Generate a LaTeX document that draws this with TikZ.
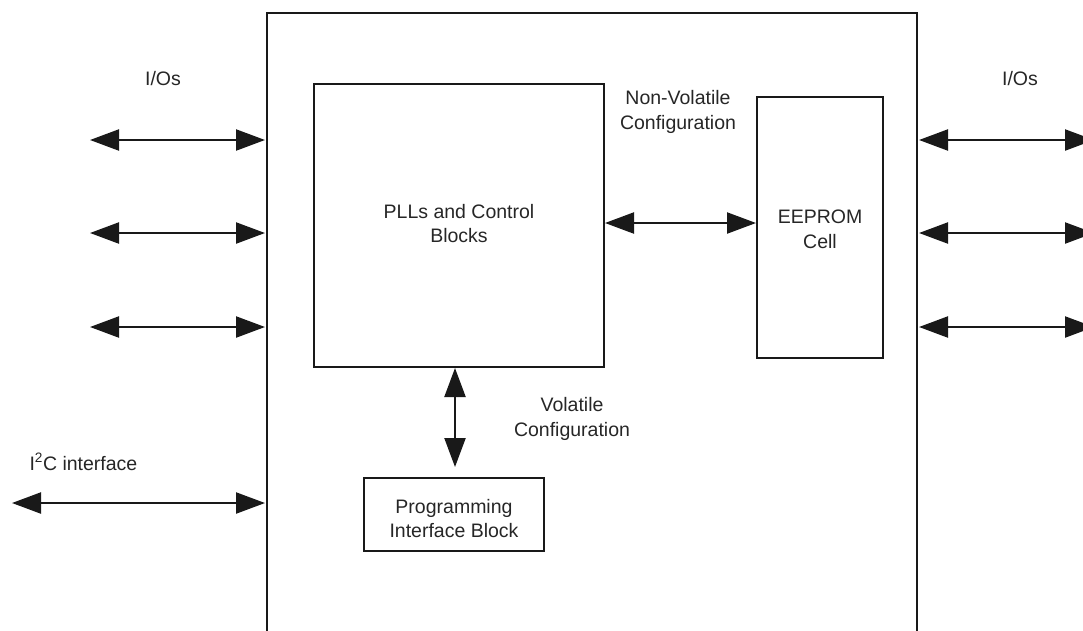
\documentclass[tikz,border=0pt]{standalone}
\usepackage{fontspec}
\setmainfont{Liberation Sans}
\usetikzlibrary{arrows.meta}
\begin{document}
\begin{tikzpicture}[x=1pt,y=-1pt,
  blk/.style={draw=black!90, line width=2pt, inner sep=0pt, anchor=north west},
  lbl/.style={font=\fontsize{19.5}{24.5}\selectfont, align=center, text=black!85},
  bidir/.style={line width=2.2pt, draw=black!90,
    {Triangle[length=29pt,width=21pt]}-{Triangle[length=29pt,width=21pt]}}]
  \useasboundingbox (0,0) rectangle (1083,630);
  \clip (0,0) rectangle (1083,630);

  % device outline (open at the bottom)
  \coordinate (oBL) at (267,640);
  \coordinate (oTL) at (267,13);
  \coordinate (oTR) at (917,13);
  \coordinate (oBR) at (917,640);
  \draw[line width=2pt, draw=black!90] (oBL) -- (oTL) -- (oTR) -- (oBR);

  % inner blocks
  \node[blk, minimum width=290pt, minimum height=283pt] (pll) at (313,83) {};
  \node[lbl] at ([yshift=2pt]pll.center) {PLLs and Control\\Blocks};
  \node[blk, minimum width=126pt, minimum height=261pt] (eep) at (756,96) {};
  \node[lbl] at ([yshift=-2pt]eep.center) {EEPROM\\Cell};
  \node[blk, minimum width=180pt, minimum height=73pt] (prog) at (363,477) {};
  \node[lbl] at ([yshift=-4pt]prog.center) {Programming\\Interface Block};

  % I/O arrows on both sides
  \foreach \i/\y in {1/140,2/233,3/327}{
    \coordinate (lo\i) at (90,\y);
    \coordinate (li\i) at (265,\y);
    \draw[bidir] (lo\i) -- (li\i);
    \coordinate (ri\i) at (919,\y);
    \coordinate (ro\i) at (1094,\y);
    \draw[bidir] (ri\i) -- (ro\i);
  }
  \node[lbl] (iol) at (163,79) {I/Os};
  \node[lbl] (ior) at (1020,79) {I/Os};

  % I2C interface
  \coordinate (i2co) at (12,503);
  \coordinate (i2ci) at (265,503);
  \draw[bidir] (i2co) -- (i2ci);
  \node[lbl, anchor=west] (i2c) at (26,462) {I\textsuperscript{2}C interface};

  % configuration paths
  \draw[bidir] (pll.east |- 0,223) -- (eep.west |- 0,223);
  \node[lbl] (nv) at (678,112) {Non-Volatile\\Configuration};
  \draw[bidir] (455,368) -- (455,467);
  \node[lbl] (vc) at (572,419) {Volatile\\Configuration};
\end{tikzpicture}
\end{document}
